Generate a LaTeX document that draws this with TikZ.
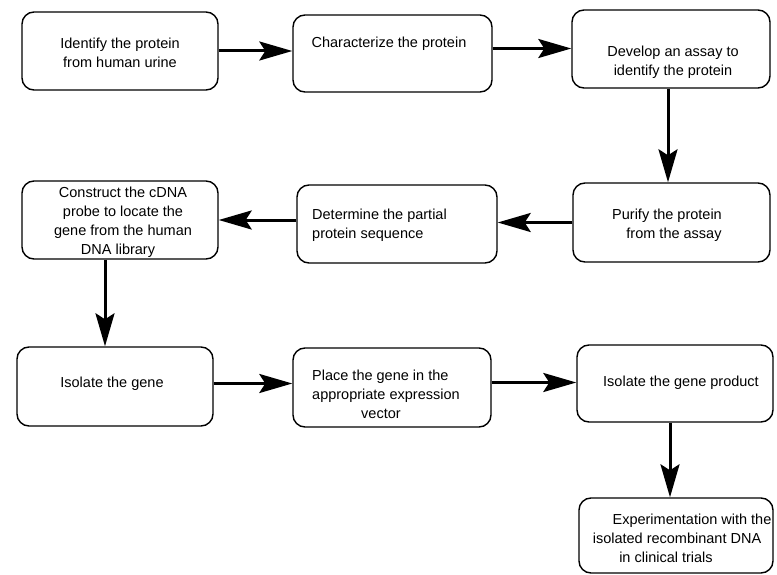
\documentclass[tikz,border=0pt]{standalone}
\usepackage{fontspec}
\setmainfont{Liberation Sans}
\usetikzlibrary{arrows.meta}
\begin{document}
\begin{tikzpicture}[x=1pt,y=-1pt,
  box/.style={draw, line width=1.4pt, rounded corners=12pt, inner sep=0pt},
  txt/.style={inner sep=0pt, font=\fontsize{14.5}{19}\selectfont},
  flow/.style={line width=3pt, -{Stealth[length=33pt,width=19pt,inset=6pt]}}]
\useasboundingbox (0,0) rectangle (777,575);
% boxes
\node[box, minimum width=196pt, minimum height=78pt] (b1) at (120,51) {};
\node[box, minimum width=199pt, minimum height=77pt] (b2) at (392.5,53.5) {};
\node[box, minimum width=198pt, minimum height=78pt] (b3) at (671,49) {};
\node[box, minimum width=197pt, minimum height=79pt] (b4) at (671.5,222.5) {};
\node[box, minimum width=200pt, minimum height=78pt] (b5) at (397,224) {};
\node[box, minimum width=196pt, minimum height=78pt] (b6) at (120,220) {};
\node[box, minimum width=196pt, minimum height=79pt] (b7) at (115,386.5) {};
\node[box, minimum width=198pt, minimum height=79pt] (b8) at (392,387.5) {};
\node[box, minimum width=196pt, minimum height=77pt] (b9) at (675,383.5) {};
\node[box, minimum width=194pt, minimum height=75pt] (b10) at (676,535.5) {};
% texts
\node[txt, align=center] (t1) at (120,53) {Identify the protein\\from human urine};
\node[txt] (t2) at (389,44) {Characterize the protein};
\node[txt, align=center] (t3) at (673,62) {Develop an assay to\\identify the protein};
\node[txt, align=center] (t4) at (667,225) {Purify the protein\\\hspace*{14pt}from the assay};
\node[txt, align=left, anchor=west] (t5) at (312,225) {Determine the partial\\protein sequence};
\node[txt, align=center] (t6) at (123,222.5) {Construct the cDNA\\probe to locate the\\gene from the human\\\hspace*{-10pt}DNA library};
\node[txt] (t7) at (112,384) {Isolate the gene};
\node[txt, align=left, anchor=west] (t8) at (312,394) {Place the gene in the\\appropriate expression\\\hspace*{49pt}vector};
\node[txt] (t9) at (681,383) {Isolate the gene product};
\node[txt, align=center] (t10) at (677,538) {\hspace*{30pt}Experimentation with the\\isolated recombinant DNA\\\hspace*{-22pt}in clinical trials};
% connectors
\draw[flow] (b1.east) -- (b1.east -| b2.west);
\draw[flow] ([yshift=5pt]b2.east) -- ([yshift=5pt]b2.east -| b3.west);
\draw[flow] ([xshift=-3pt]b3.south) -- ([xshift=-3pt]b3.south |- b4.north);
\draw[flow] (b4.west) -- (b4.west -| b5.east);
\draw[flow] ([yshift=4pt]b5.west) -- ([yshift=4pt]b5.west -| b6.east);
\draw[flow] ([xshift=-15pt]b6.south) -- ([xshift=-15pt]b6.south |- b7.north);
\draw[flow] ([yshift=3pt]b7.east) -- ([yshift=3pt]b7.east -| b8.west);
\draw[flow] ([yshift=5pt]b8.east) -- ([yshift=5pt]b8.east -| b9.west);
\draw[flow] ([xshift=-5pt]b9.south) -- ([xshift=-5pt]b9.south |- b10.north);
\end{tikzpicture}
\end{document}
